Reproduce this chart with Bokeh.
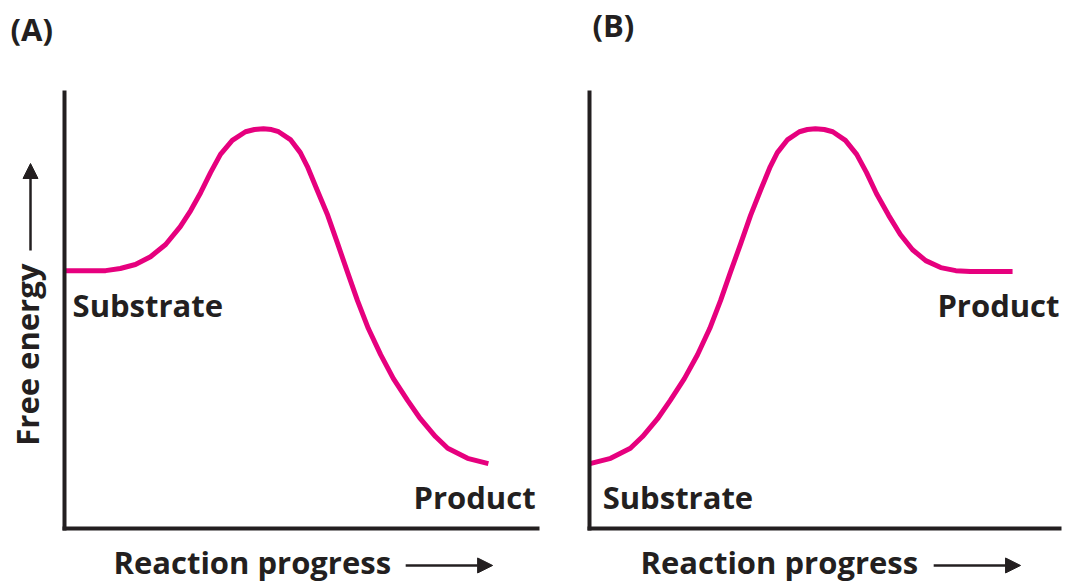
from bokeh.plotting import figure
from bokeh.layouts import row
from bokeh.models import Range1d, Arrow, NormalHead, LinearAxis, FixedTicker
from bokeh.core.properties import value
from bokeh.embed import file_html
from bokeh.resources import INLINE
import math

# ---- data (reaction progress 0-10, free energy 0-10) ----
a_progress = [0.00, 0.86, 1.17, 1.49, 1.81, 2.13, 2.44, 2.66, 2.87, 3.08, 3.29, 3.54, 3.82, 4.01,
              4.20, 4.37, 4.52, 4.77, 4.98, 5.13, 5.34, 5.56, 5.77, 5.98, 6.19, 6.42, 6.68, 6.95,
              7.25, 7.52, 7.84, 8.10, 8.52, 8.96]
a_energy = [5.91, 5.91, 5.96, 6.05, 6.23, 6.51, 6.92, 7.29, 7.70, 8.16, 8.58, 8.90, 9.10, 9.15,
            9.17, 9.15, 9.10, 8.92, 8.62, 8.30, 7.75, 7.18, 6.53, 5.87, 5.22, 4.58, 3.98, 3.43,
            2.93, 2.51, 2.10, 1.83, 1.60, 1.48]

b_progress = [0.00, 0.44, 0.86, 1.12, 1.44, 1.71, 2.01, 2.29, 2.55, 2.78, 2.99, 3.21, 3.42, 3.63,
              3.84, 3.99, 4.21, 4.46, 4.63, 4.80, 4.99, 5.17, 5.44, 5.68, 5.89, 6.10, 6.36, 6.61,
              6.87, 7.15, 7.47, 7.79, 8.10, 9.00]
b_energy = [1.48, 1.60, 1.83, 2.10, 2.51, 2.93, 3.43, 3.98, 4.58, 5.22, 5.87, 6.53, 7.18, 7.75,
            8.30, 8.62, 8.92, 9.10, 9.15, 9.17, 9.15, 9.10, 8.90, 8.58, 8.16, 7.68, 7.18, 6.74,
            6.39, 6.14, 5.98, 5.91, 5.89, 5.89]

panel_titles = ["(A)", "(B)"]
x_label = "Reaction progress"
y_label = "Free energy"
state_labels = ["Substrate", "Product"]

# text anchors (data units)
a_title_xy = (-1.153, 11.47)
b_title_xy = (0.053, 11.56)
a_substrate_xy = (0.16, 5.11)
a_product_xy = (9.96, 0.72)
b_substrate_xy = (0.27, 0.72)
b_product_xy = (10.0, 5.13)
a_xlabel_xy = (1.026, -0.79)
b_xlabel_xy = (1.076, -0.79)
ylabel_xy = (-0.794, 1.89)
a_xarrow = (7.21, 9.05, -0.86)
b_xarrow = (7.32, 9.17, -0.86)
yarrow = (-0.73, 6.37, 8.37)

INK = "#231F20"
MAGENTA = "#E6007E"
FONT = "Open Sans"
FS = "31px"


def base_fig(width, x0, x1):
    p = figure(width=width, height=587, x_range=Range1d(x0, x1), y_range=Range1d(-1.366, 12.113),
               output_backend="svg", toolbar_location=None,
               x_axis_location=None, y_axis_location=None,
               min_border_left=0, min_border_right=0, min_border_top=0, min_border_bottom=0)
    p.outline_line_color = None
    p.grid.visible = False
    p.background_fill_color = "white"
    p.border_fill_color = "white"
    for side in ("below", "left"):
        ax = LinearAxis(fixed_location=0, bounds=(0, 10), ticker=FixedTicker(ticks=[]),
                        major_tick_line_color=None, minor_tick_line_color=None,
                        major_label_text_font_size="0px",
                        axis_line_width=4, axis_line_color=INK, axis_line_cap="square")
        p.add_layout(ax, side)
    return p


def add_text(p, xy, text, align="left", angle=0.0):
    p.text(x=[xy[0]], y=[xy[1]], text=[text], text_font=value(FONT), text_font_style="bold",
           text_font_size=FS, text_color=INK, text_align=align, text_baseline="middle",
           angle=angle)


def add_arrow(p, x0, y0, x1, y1):
    p.add_layout(Arrow(x_start=x0, y_start=y0, x_end=x1, y_end=y1,
                       line_width=2.5, line_color=INK,
                       end=NormalHead(size=15, fill_color=INK, line_color=INK, line_width=1)))


# ---- panel A ----
pa = base_fig(557, -1.365, 10.423)
pa.line(a_progress, a_energy, line_width=5, line_color=MAGENTA, line_join="round")
add_text(pa, a_substrate_xy, state_labels[0])
add_text(pa, a_product_xy, state_labels[1], "right")
add_text(pa, a_title_xy, panel_titles[0])
add_text(pa, ylabel_xy, y_label, angle=math.pi / 2)
add_text(pa, a_xlabel_xy, x_label)
add_arrow(pa, a_xarrow[0], a_xarrow[2], a_xarrow[1], a_xarrow[2])
add_arrow(pa, yarrow[0], yarrow[1], yarrow[0], yarrow[2])

# ---- panel B ----
pb = base_fig(510, -0.692, 10.170)
pb.line(b_progress, b_energy, line_width=5, line_color=MAGENTA, line_join="round")
add_text(pb, b_substrate_xy, state_labels[0])
add_text(pb, b_product_xy, state_labels[1], "right")
add_text(pb, b_title_xy, panel_titles[1])
add_text(pb, b_xlabel_xy, x_label)
add_arrow(pb, b_xarrow[0], b_xarrow[2], b_xarrow[1], b_xarrow[2])

layout = row(pa, pb)
open("out.html", "w").write(file_html(layout, INLINE))
